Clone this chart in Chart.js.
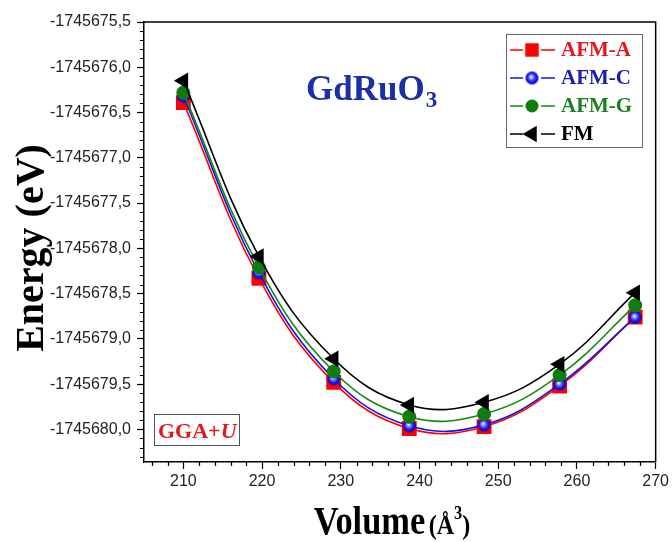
<!DOCTYPE html>
<html>
<head>
<meta charset="utf-8">
<script src="https://cdn.jsdelivr.net/npm/chart.js@4.4.0/dist/chart.umd.min.js"></script>
<style>
  html, body { margin: 0; padding: 0; background: #fff; }
  #c { display: block; }
</style>
</head>
<body>
<canvas id="c" width="672" height="542"></canvas>
<script>
// Unit-cell volume (Å^3) of each computed point
const volumes = [210, 219.6, 229.1, 238.7, 248.2, 257.8, 267.4];

// Total energies (eV) for each magnetic configuration
const energyAFMA = [-1745676.39, -1745678.33, -1745679.48, -1745679.99, -1745679.97, -1745679.52, -1745678.76];
const energyAFMC = [-1745676.32, -1745678.27, -1745679.44, -1745679.96, -1745679.95, -1745679.50, -1745678.76];
const energyAFMG = [-1745676.28, -1745678.21, -1745679.36, -1745679.86, -1745679.83, -1745679.40, -1745678.63];
const energyFM   = [-1745676.15, -1745678.09, -1745679.22, -1745679.73, -1745679.70, -1745679.28, -1745678.49];

const seriesNames = ['AFM-A', 'AFM-C', 'AFM-G', 'FM'];

// Axis tick labels
const xTickValues = [210, 220, 230, 240, 250, 260, 270];
const yTickValues = [-1745675.5, -1745676.0, -1745676.5, -1745677.0, -1745677.5,
                     -1745678.0, -1745678.5, -1745679.0, -1745679.5, -1745680.0];

const SERIF = '"Liberation Serif", "Times New Roman", serif';
const SANS = '"Liberation Sans", Arial, sans-serif';

// Shaded blue sphere used as the AFM-C marker
function makeSphere(r) {
  const c = document.createElement('canvas');
  c.width = c.height = r * 2 + 2;
  const g = c.getContext('2d');
  const cx = r + 1, cy = r + 1;
  const grad = g.createRadialGradient(cx - r * 0.15, cy - r * 0.2, r * 0.05, cx, cy, r);
  grad.addColorStop(0, '#ffffff');
  grad.addColorStop(0.3, '#7f7fff');
  grad.addColorStop(0.65, '#1a1aff');
  grad.addColorStop(1, '#0000b0');
  g.fillStyle = grad;
  g.beginPath();
  g.arc(cx, cy, r, 0, Math.PI * 2);
  g.fill();
  return c;
}
const sphere = makeSphere(6.5);

function pairs(ys) { return volumes.map((v, i) => ({ x: v, y: ys[i] })); }

const datasets = [
  { label: seriesNames[0], data: pairs(energyAFMA), borderColor: '#ff0000', backgroundColor: '#ff0000',
    pointStyle: 'rect', pointRadius: 10.5, pointBorderWidth: 0, order: 4, textColor: '#e8141c' },
  { label: seriesNames[1], data: pairs(energyAFMC), borderColor: '#1414e6', backgroundColor: '#1414e6',
    pointStyle: sphere, pointRadius: 6.5, pointBorderWidth: 0, order: 3, textColor: '#1a1ab4' },
  { label: seriesNames[2], data: pairs(energyAFMG), borderColor: '#138a13', backgroundColor: '#0d7d0d',
    pointStyle: 'circle', pointRadius: 7, pointBorderWidth: 0, order: 2, textColor: '#18801c' },
  { label: seriesNames[3], data: pairs(energyFM), borderColor: '#000000', backgroundColor: '#000000',
    pointStyle: 'triangle', pointRotation: -90, pointRadius: 9.5, pointBorderWidth: 0, order: 1, textColor: '#000000' }
];
datasets.forEach(d => {
  d.borderWidth = 1.6;
  d.tension = 0.4;
  d.fill = false;
  d.pointHoverRadius = d.pointRadius;
});

// Frame, minor ticks, titles, legend and annotation box
const decorations = {
  id: 'decorations',
  afterDraw(chart) {
    const ctx = chart.ctx;
    const a = chart.chartArea;
    const xs = chart.scales.x, ys = chart.scales.y;
    ctx.save();

    // top and right frame lines
    ctx.strokeStyle = '#000';
    ctx.lineWidth = 1.5;
    ctx.beginPath();
    ctx.moveTo(a.left, a.top);
    ctx.lineTo(a.right, a.top);
    ctx.lineTo(a.right, a.bottom);
    ctx.stroke();

    // minor ticks
    ctx.lineWidth = 1.2;
    ctx.beginPath();
    for (let k = Math.ceil(ys.min * 10); k <= Math.floor(ys.max * 10); k++) {
      if (k % 5 === 0) continue;
      const py = Math.round(ys.getPixelForValue(k / 10)) + 0.5;
      ctx.moveTo(a.left, py);
      ctx.lineTo(a.left - 4, py);
    }
    for (let v = Math.ceil(xs.min / 2) * 2; v <= xs.max; v += 2) {
      if (v % 10 === 0) continue;
      const px = Math.round(xs.getPixelForValue(v)) + 0.5;
      ctx.moveTo(px, a.bottom);
      ctx.lineTo(px, a.bottom + 4);
    }
    ctx.stroke();

    // y-axis title
    ctx.fillStyle = '#000';
    ctx.save();
    ctx.translate(43, 248);
    ctx.rotate(-Math.PI / 2);
    ctx.font = 'bold 40px ' + SERIF;
    ctx.textAlign = 'center';
    ctx.textBaseline = 'alphabetic';
    ctx.fillText('Energy (eV)', 0, 0);
    ctx.restore();

    // x-axis title (slightly condensed)
    ctx.save();
    const sx = 0.86;
    ctx.textAlign = 'left';
    ctx.textBaseline = 'alphabetic';
    ctx.font = 'bold 40px ' + SERIF;
    const w1 = ctx.measureText('Volume').width + 4;
    ctx.font = 'bold 28px ' + SERIF;
    const w2 = ctx.measureText('(Å').width;
    ctx.font = 'bold 19px ' + SERIF;
    const w3 = ctx.measureText('3').width;
    ctx.font = 'bold 28px ' + SERIF;
    const w4 = ctx.measureText(')').width;
    const total = (w1 + w2 + w3 + w4) * sx;
    ctx.translate(392 - total / 2, 534);
    ctx.scale(sx, 1);
    let tx = 0;
    ctx.font = 'bold 40px ' + SERIF;
    ctx.fillText('Volume', tx, 0); tx += w1;
    ctx.font = 'bold 28px ' + SERIF;
    ctx.fillText('(Å', tx, 0); tx += w2;
    ctx.font = 'bold 19px ' + SERIF;
    ctx.fillText('3', tx, -15); tx += w3;
    ctx.font = 'bold 28px ' + SERIF;
    ctx.fillText(')', tx, 0);
    ctx.restore();

    // compound name
    ctx.fillStyle = '#1b2fa6';
    ctx.font = 'bold 35px ' + SERIF;
    const wn = ctx.measureText('GdRuO').width;
    ctx.fillText('GdRuO', 306, 100);
    ctx.font = 'bold 23px ' + SERIF;
    ctx.fillText('3', 306 + wn + 1, 107);

    // method label box
    ctx.strokeStyle = '#555';
    ctx.lineWidth = 1;
    ctx.strokeRect(154.5, 414.5, 85, 31);
    ctx.fillStyle = '#e01a1a';
    ctx.font = 'bold 22px ' + SERIF;
    const wg = ctx.measureText('GGA+').width;
    ctx.fillText('GGA+', 158, 438);
    ctx.font = 'italic bold 22px ' + SERIF;
    ctx.fillText('U', 158 + wg, 438);

    // legend
    const lx = 506, ly = 34, lw = 136, lh = 113;
    ctx.strokeStyle = '#666';
    ctx.lineWidth = 1;
    ctx.strokeRect(lx + 0.5, ly + 0.5, lw, lh);
    chart.data.datasets.forEach((d, i) => {
      const cy = ly + 16 + i * 28;
      ctx.strokeStyle = d.borderColor;
      ctx.lineWidth = 1.6;
      ctx.beginPath();
      ctx.moveTo(lx + 4, cy); ctx.lineTo(lx + 17, cy);
      ctx.moveTo(lx + 35, cy); ctx.lineTo(lx + 49, cy);
      ctx.stroke();
      ctx.fillStyle = d.backgroundColor;
      const r = d.pointStyle === 'rect' ? 9.5 : d.pointStyle === 'triangle' ? 9.5 : 6.5;
      Chart.helpers.drawPoint(ctx, {
        pointStyle: d.pointStyle, radius: r, rotation: d.pointRotation || 0, borderWidth: 0
      }, lx + 26, cy);
      ctx.fillStyle = d.textColor;
      ctx.font = 'bold 21px ' + SERIF;
      ctx.textBaseline = 'middle';
      ctx.fillText(d.label, lx + 55, cy + 1);
      ctx.textBaseline = 'alphabetic';
    });

    ctx.restore();
  }
};

new Chart(document.getElementById('c'), {
  type: 'line',
  data: { datasets },
  options: {
    responsive: false,
    animation: false,
    events: [],
    layout: { padding: { left: 0, right: 14, top: 22, bottom: 0 } },
    plugins: { legend: { display: false }, tooltip: { enabled: false } },
    scales: {
      x: {
        type: 'linear',
        min: 205,
        max: 270,
        afterBuildTicks: s => { s.ticks = xTickValues.map(v => ({ value: v })); },
        afterFit: s => { s.height = 80; },
        grid: { drawOnChartArea: false, drawTicks: true, tickLength: 7, tickColor: '#000', tickWidth: 1.2 },
        border: { display: true, color: '#000', width: 1.5 },
        ticks: {
          font: { family: SANS, size: 16 }, color: '#222', padding: 3,
          maxRotation: 0, autoSkip: false, callback: v => String(v)
        }
      },
      y: {
        type: 'linear',
        min: -1745680.36,
        max: -1745675.5,
        afterBuildTicks: s => { s.ticks = yTickValues.map(v => ({ value: v })); },
        afterFit: s => { s.width = 144; },
        grid: { drawOnChartArea: false, drawTicks: true, tickLength: 7, tickColor: '#000', tickWidth: 1.2 },
        border: { display: true, color: '#000', width: 1.5 },
        ticks: {
          font: { family: SANS, size: 16 }, color: '#222', padding: 6, autoSkip: false,
          callback: v => v.toFixed(1).replace('.', ',')
        }
      }
    }
  },
  plugins: [decorations]
});
</script>
</body>
</html>
